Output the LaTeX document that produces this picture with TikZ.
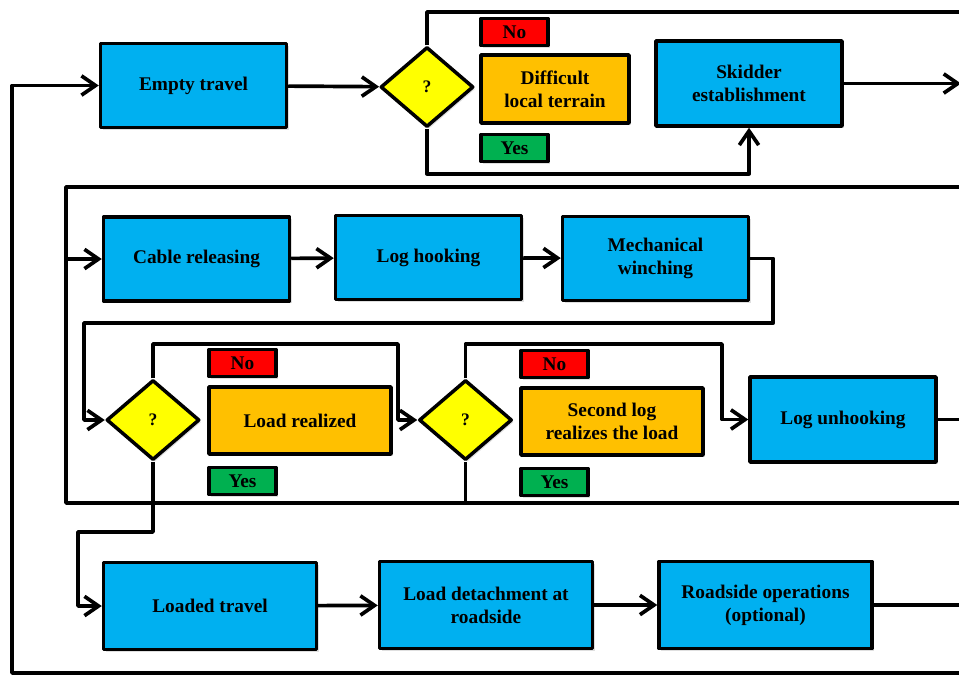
\documentclass[tikz,border=0pt]{standalone}
\usepackage{fontspec}
\setmainfont{Liberation Serif}
\usepackage{xcolor}
\definecolor{TaskBlue}{RGB}{0, 176, 240}
\definecolor{CondOrange}{RGB}{255, 192, 0}
\definecolor{AskYellow}{RGB}{255, 255, 0}
\definecolor{NoRed}{RGB}{255, 0, 0}
\definecolor{YesGreen}{RGB}{0, 176, 80}
\usepackage{tikz}
\usetikzlibrary{shapes.geometric, arrows.meta, shadows, positioning}

\begin{document}
\begin{tikzpicture}[x=0.02cm, y=-0.02cm, line width=2.1pt, line join=round,
    every node/.style={font=\fontsize{11}{13}\selectfont\bfseries, align=center, line width=2pt, inner sep=0pt},
    boxshadow/.style={drop shadow={shadow xshift=1.2pt, shadow yshift=-1.2pt, opacity=0.25}},
    task/.style={draw, fill=TaskBlue, boxshadow, minimum width=3.72cm, minimum height=1.68cm},
    wide/.style={minimum width=4.26cm, minimum height=1.74cm},
    cond/.style={draw, fill=CondOrange, boxshadow, minimum width=3.64cm, minimum height=1.34cm},
    ask/.style={draw, diamond, fill=AskYellow, boxshadow, minimum width=1.86cm, minimum height=1.6cm, font=\fontsize{10}{12}\selectfont\bfseries},
    nolab/.style={draw, fill=NoRed, boxshadow, minimum width=1.34cm, minimum height=0.54cm},
    yeslab/.style={draw, fill=YesGreen, boxshadow, minimum width=1.34cm, minimum height=0.54cm},
    go/.style={-{Straight Barb[length=8pt, width=11pt]}}]
    \useasboundingbox (0,0) rectangle (959,674);

    % first row
    \node[task] (empty) at (193.5,85.5) {Empty travel};
    \node[ask] (q1) at (427,87) {?};
    \node[cond, minimum width=2.96cm, minimum height=1.36cm] (terrain) at (555,89) {Difficult\\local terrain};
    \node[nolab, above=0.12cm of terrain.north west, anchor=south west] (no1) {No};
    \node[yeslab, below=0.16cm of terrain.south west, anchor=north west] (yes1) {Yes};
    \node[task, minimum height=1.7cm] (skidder) at (749,83.5) {Skidder\\establishment};

    % second row
    \node[task] (cable) at (196.5,259) {Cable releasing};
    \node[task] (hook) at (428.5,257.5) {Log hooking};
    \node[task] (winch) at (655.5,258.5) {Mechanical\\winching};

    % third row
    \node[ask] (q2) at (153,420) {?};
    \node[cond] (realized) at (300,420.5) {Load realized};
    \node[nolab, above=0.14cm of realized.north west, anchor=south west] (no2) {No};
    \node[yeslab, below=0.2cm of realized.south west, anchor=north west] (yes2) {Yes};
    \node[ask] (q3) at (465.5,420) {?};
    \node[cond] (second) at (612,421.5) {Second log\\realizes the load};
    \node[nolab, above=0.14cm of second.north west, anchor=south west] (no3) {No};
    \node[yeslab, below=0.2cm of second.south west, anchor=north west] (yes3) {Yes};
    \node[task, minimum height=1.7cm] (unhook) at (843,419.5) {Log unhooking};

    % fourth row
    \node[task, wide] (loaded) at (210,606) {Loaded travel};
    \node[task, wide] (detach) at (486,605) {Load detachment at\\roadside};
    \node[task, wide] (roadside) at (765.5,605) {Roadside operations\\(optional)};

    % bends and loose ends
    \coordinate (topout) at (1000,12);
    \coordinate (skout) at (961,83.5);
    \coordinate (loopin) at (1000,187);
    \coordinate (loopleft) at (66,187);
    \coordinate (loopout) at (1000,503);
    \coordinate (unout) at (1000,419.5);
    \coordinate (winchdown) at (84,323);
    \coordinate (q2up) at (398,344);
    \coordinate (q3up) at (722,344);
    \coordinate (q2down) at (78,532);
    \coordinate (rsout) at (1000,673);
    \coordinate (back) at (12,673);

    \draw[go] (empty) -- (q1);
    \draw (q1.north) |- (topout);
    \draw[go] (q1.south) -- ++(0,45) -| (skidder.south);
    \draw[go] (skidder.east) -- (skout);

    \draw[go] (loopin) -- (loopleft) |- (cable.west);
    \draw (loopleft) -- (loopleft |- loopout) -- (loopout);
    \draw[go] (cable) -- (hook);
    \draw[go] (hook) -- (winch);
    \draw[go] (winch.east) -- ++(23,0) |- (winchdown) |- (q2.west);

    \draw[go] (q2.north) |- (q2up) |- (q3.west);
    \draw[go] (q3.north) |- (q3up) |- (unhook.west);
    \draw (q3.south) -- (q3.south |- loopout);
    \draw (unhook.east) -- (unout);
    \draw[go] (q2.south) |- (q2down) |- (loaded.west);

    \draw[go] (loaded) -- (detach);
    \draw[go] (detach) -- (roadside);
    \draw[go] (roadside.east) -| (rsout) -- (back) |- (empty.west);
\end{tikzpicture}
\end{document}
